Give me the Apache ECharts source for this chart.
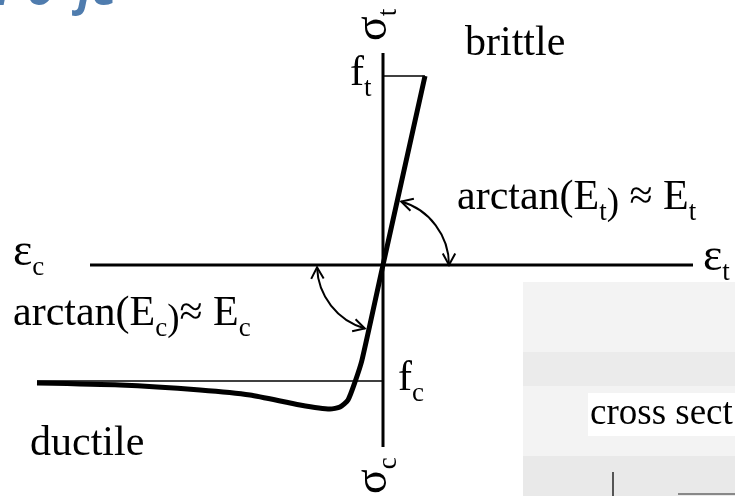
<!DOCTYPE html>
<html>
<head>
<meta charset="utf-8">
<style>
  html, body { margin: 0; padding: 0; background: #fff; }
  #chart { width: 735px; height: 496px; }
</style>
<script src="https://cdn.jsdelivr.net/npm/echarts@6/dist/echarts.min.js"></script>
</head>
<body>
<div id="chart"></div>
<script>
// strain on x, stress on y, origin where the two axes cross
const strainAxis = [-293, 310]
const stressAxis = [-182, 212]
const ft = 189
const strainAtFt = 42
const fc = -116
const fcLineStart = -346

// stress-strain curve, tension tip down through the ductile tail
const curveStrain = [42, 0, -21, -28, -35, -43, -53, -83, -133, -183, -263, -346]
const curveStress = [189, 0, -95, -117, -135, -142, -144, -140, -130, -125, -120, -118]

// angle markers: radius, from angle, to angle (degrees)
const tensionArc = [66, 0, 74]
const compressionArc = [66, 182, 254]

const SERIF = '"Liberation Serif", "DejaVu Serif", serif'

const rich = {
  m: { fontFamily: SERIF, fontSize: 42, lineHeight: 56, color: '#000' },
  g: { fontFamily: SERIF, fontSize: 46, lineHeight: 56, color: '#000' },
  s: { fontFamily: SERIF, fontSize: 27, lineHeight: 27, padding: [29, 0, 0, 0], color: '#000' },
  p: { fontFamily: SERIF, fontSize: 37, lineHeight: 37, padding: [13, 0, 0, 0], color: '#000' },
  c: { fontFamily: SERIF, fontSize: 37, lineHeight: 56, color: '#000' }
}

const labelDefs = [
  { pos: [82, 207], text: '{m|brittle}' },
  { pos: [-353, -193], text: '{m|ductile}' },
  { pos: [-33, 177], text: '{m|f}{s|t}' },
  { pos: [15, -128], text: '{m|f}{s|c}' },
  { pos: [-370, -2], text: '{g|ε}{s|c}' },
  { pos: [320, -7], text: '{g|ε}{s|t}' },
  { pos: [74, 53], text: '{m|arctan(E}{s|t}{p|)}{m| ≈ E}{s|t}' },
  { pos: [-370, -63], text: '{m|arctan(E}{s|c}{p|)}{m|≈ E}{s|c}' },
  { pos: [5, 224], text: '{g|σ}{s|t}', rotate: 90 },
  { pos: [5, -229], text: '{g|σ}{s|c}', rotate: 90 },
  { pos: [207, -163], text: '{c|cross sect}' }
]

function pairs(xs, ys) {
  return xs.map((x, i) => [x, ys[i]])
}

function renderArc(params, api) {
  const r = api.value(0)
  const a0 = api.value(1) * Math.PI / 180
  const a1 = api.value(2) * Math.PI / 180
  const c = api.coord([0, 0])
  const rp = api.size([r, 0])[0]
  const head = (a, dir) => {
    const tip = [c[0] + rp * Math.cos(a), c[1] - rp * Math.sin(a)]
    const back = Math.atan2(-dir[1], -dir[0])
    const len = 13
    const w = 0.5
    return {
      type: 'polyline',
      shape: { points: [
        [tip[0] + len * Math.cos(back + w), tip[1] + len * Math.sin(back + w)],
        tip,
        [tip[0] + len * Math.cos(back - w), tip[1] + len * Math.sin(back - w)]
      ] },
      style: { stroke: '#000', lineWidth: 2, fill: null }
    }
  }
  return {
    type: 'group',
    children: [
      {
        type: 'arc',
        shape: { cx: c[0], cy: c[1], r: rp, startAngle: -a1, endAngle: -a0, clockwise: true },
        style: { stroke: '#000', lineWidth: 2, fill: null }
      },
      head(a0, [Math.sin(a0), Math.cos(a0)]),
      head(a1, [-Math.sin(a1), -Math.cos(a1)])
    ]
  }
}

function renderLabel(params, api) {
  const def = labelDefs[params.dataIndex]
  const pt = api.coord(def.pos)
  return {
    type: 'text',
    x: pt[0],
    y: pt[1],
    rotation: (def.rotate || 0) * Math.PI / 180,
    style: {
      x: 0,
      y: -42,
      text: def.text,
      rich: rich,
      align: 'left',
      verticalAlign: 'top'
    }
  }
}

const thin = (data, width) => ({
  type: 'line',
  data: data,
  showSymbol: false,
  silent: true,
  z: 4,
  lineStyle: { color: '#000', width: width }
})

const chart = echarts.init(document.getElementById('chart'))
chart.setOption({
  animation: false,
  backgroundColor: '#fff',
  grid: { left: 0, right: 0, top: 0, bottom: 0 },
  xAxis: { type: 'value', min: -383, max: 352, show: false },
  yAxis: { type: 'value', min: -231, max: 265, show: false },
  graphic: [
    { type: 'rect', z: 0, shape: { x: 523, y: 282, width: 212, height: 214 }, style: { fill: '#f3f3f3' } },
    { type: 'rect', z: 0, shape: { x: 523, y: 352, width: 212, height: 34 }, style: { fill: '#ebebeb' } },
    { type: 'rect', z: 0, shape: { x: 523, y: 456, width: 212, height: 40 }, style: { fill: '#e9e9e9' } },
    { type: 'rect', z: 0, shape: { x: 588, y: 393, width: 147, height: 43 }, style: { fill: '#fff' } },
    { type: 'line', z: 0, shape: { x1: 613, y1: 472, x2: 613, y2: 496 }, style: { stroke: '#555', lineWidth: 2 } },
    { type: 'line', z: 0, shape: { x1: 678, y1: 494, x2: 735, y2: 494 }, style: { stroke: '#888', lineWidth: 2 } },
    {
      type: 'text', z: 0, x: -4, y: 15,
      style: { text: 'r o  je', font: 'bold italic 46px "Open Sans"', fill: '#4f7cae', verticalAlign: 'bottom' }
    }
  ],
  series: [
    thin([[strainAxis[0], 0], [strainAxis[1], 0]], 3),
    thin([[0, stressAxis[0]], [0, stressAxis[1]]], 3),
    thin([[0, ft], [strainAtFt, ft]], 1.5),
    thin([[fcLineStart, fc], [0, fc]], 1.5),
    {
      type: 'line',
      data: pairs(curveStrain, curveStress),
      smooth: 0.2,
      showSymbol: false,
      silent: true,
      z: 5,
      lineStyle: { color: '#000', width: 5 }
    },
    {
      type: 'custom',
      renderItem: renderArc,
      data: [tensionArc, compressionArc],
      silent: true,
      z: 5
    },
    {
      type: 'custom',
      renderItem: renderLabel,
      data: labelDefs.map(d => d.pos),
      silent: true,
      z: 6
    }
  ]
})
</script>
</body>
</html>
